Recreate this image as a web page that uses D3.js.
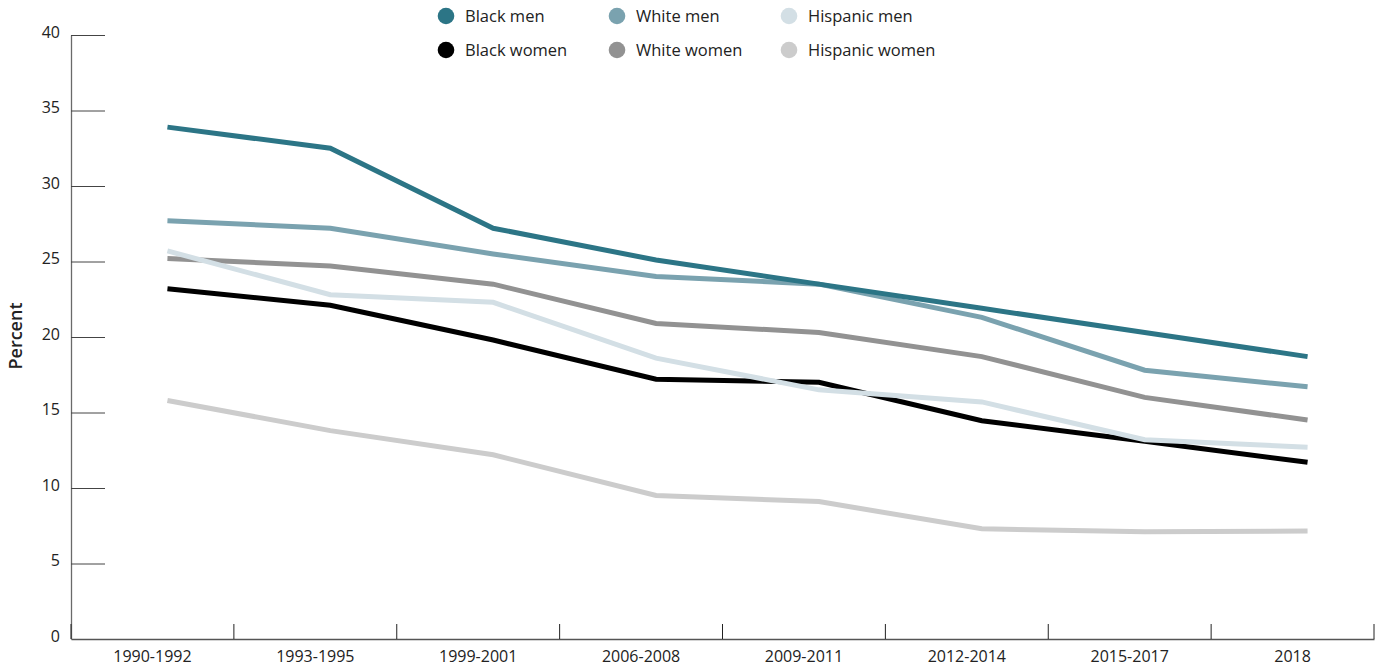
<!DOCTYPE html>
<html><head><meta charset="utf-8">
<script src="https://cdn.jsdelivr.net/npm/d3@7"></script>
<style>
body{margin:0;background:#fff;}
text{font-family:"Open Sans",sans-serif;fill:#222;}
</style></head>
<body><svg id="c" width="1382" height="668"></svg>
<script>
const categories = ["1990-1992","1993-1995","1999-2001","2006-2008","2009-2011","2012-2014","2015-2017","2018"];
const blackMen      = [33.9, 32.5, 27.2, 25.1, 23.5, 21.9, 20.3, 18.7];
const whiteMen      = [27.7, 27.2, 25.5, 24.0, 23.5, 21.3, 17.8, 16.7];
const hispanicMen   = [25.7, 22.8, 22.3, 18.6, 16.5, 15.7, 13.2, 12.7];
const blackWomen    = [23.2, 22.1, 19.8, 17.2, 17.0, 14.45, 13.1, 11.7];
const whiteWomen    = [25.2, 24.7, 23.5, 20.9, 20.3, 18.7, 16.0, 14.5];
const hispanicWomen = [15.8, 13.8, 12.2, 9.5, 9.1, 7.3, 7.1, 7.15];
const yTicks = [0,5,10,15,20,25,30,35,40];
const seriesNames = ["Black men","White men","Hispanic men","Black women","White women","Hispanic women"];
const seriesColors = ["#2c7586","#7aa2af","#d3dfe5","#000000","#929292","#cccccc"];

(function(){
const series = [
  {name:"Black women", values:blackWomen},
  {name:"Hispanic women", values:hispanicWomen},
  {name:"White women", values:whiteWomen},
  {name:"Hispanic men", values:hispanicMen},
  {name:"White men", values:whiteMen},
  {name:"Black men", values:blackMen}
];
const color = d3.scaleOrdinal().domain(seriesNames).range(seriesColors);

const svg = d3.select("#c");
const mLeft = 71, mRight = 1374, mTop = 35, mBottom = 639;
const xBand = d3.scaleBand().domain(categories).range([mLeft, mRight]);
const xPt = d3.scalePoint().domain(categories).range([mLeft+15, mRight+15]).padding(0.5);
const y = d3.scaleLinear().domain([0,40]).range([mBottom, mTop]);

// Y axis
const ya = svg.append("g").attr("transform",`translate(${mLeft},0)`)
  .call(d3.axisLeft(y).tickValues(yTicks).tickSize(-34).tickSizeOuter(0).tickPadding(11));
ya.select(".domain").attr("stroke","#6a6a6a").attr("stroke-width",1.3);
ya.selectAll(".tick line").attr("stroke","#444");
ya.selectAll(".tick text").attr("font-size",16).attr("font-family","Open Sans").attr("fill","#222").attr("dy","0.15em");
ya.select(".tick:first-of-type line").remove();

// X axis
const xa = svg.append("g").attr("transform",`translate(0,${mBottom})`)
  .call(d3.axisBottom(xBand).tickSize(0).tickPadding(12).tickSizeOuter(0));
xa.select(".domain").attr("stroke","#555").attr("stroke-width",1.3);
xa.selectAll(".tick text").attr("font-size",16).attr("font-family","Open Sans").attr("fill","#222");
const bounds = categories.map(c => xBand(c) + xBand.bandwidth()).concat([xBand(categories[0])]);
svg.append("g").selectAll("line").data(bounds).join("line")
  .attr("x1",d=>d).attr("x2",d=>d).attr("y1",mBottom).attr("y2",mBottom-15)
  .attr("stroke","#222").attr("stroke-width",1);

// Y label
svg.append("text").attr("transform",`translate(22,336) rotate(-90)`)
  .attr("text-anchor","middle").attr("font-size",18).attr("font-weight",600).attr("fill","#222")
  .text("Percent");

// Lines
const line = d3.line().x((d,i)=>xPt(categories[i])).y(d=>y(d));
svg.append("g").selectAll("path").data(series).join("path")
  .attr("d",d=>line(d.values)).attr("fill","none")
  .attr("stroke",d=>color(d.name)).attr("stroke-width",5).attr("stroke-linejoin","miter");

// Legend
const legX = [446, 617, 789], legY = [16, 50];
const lg = svg.append("g").selectAll("g").data(seriesNames).join("g")
  .attr("transform",(d,i)=>`translate(${legX[i%3]},${legY[Math.floor(i/3)]})`);
lg.append("circle").attr("r",8.3).attr("fill",d=>color(d));
lg.append("text").attr("x",19).attr("dy","0.35em").attr("font-size",16.5).attr("fill","#222").text(d=>d);
})();
</script></body></html>
